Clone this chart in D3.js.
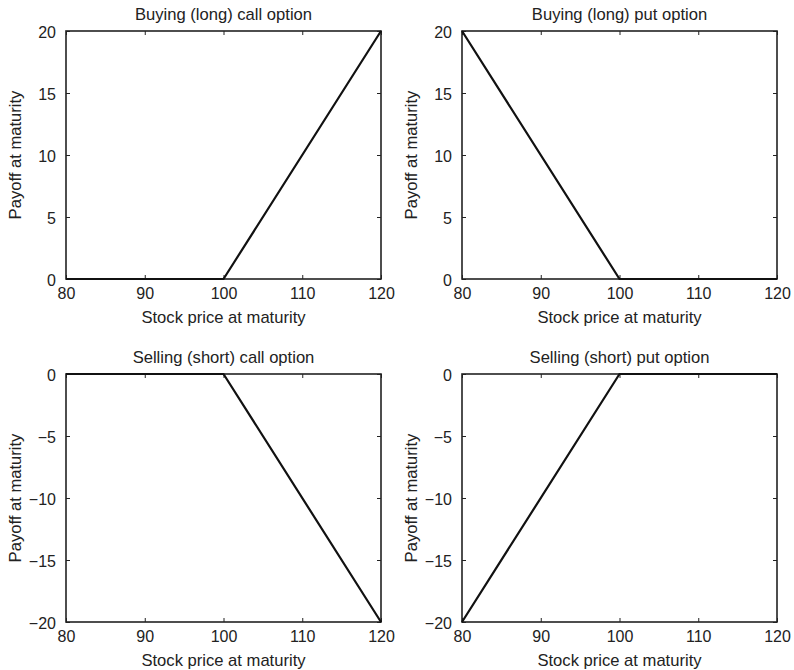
<!DOCTYPE html>
<html>
<head>
<meta charset="utf-8">
<script src="https://cdn.jsdelivr.net/npm/d3@7"></script>
<style>
  html, body { margin: 0; padding: 0; background: #fff; }
  svg { display: block; }
  text { font-family: "Liberation Sans", Arial, Helvetica, sans-serif; fill: #222; }
</style>
</head>
<body>
<svg id="chart" width="794" height="670"></svg>
<script>
// Stock price at maturity (strike = 100)
const stockPrices = [80, 100, 120];

// Payoff at maturity for each position
const longCallPayoff  = [0, 0, 20];
const longPutPayoff   = [20, 0, 0];
const shortCallPayoff = [0, 0, -20];
const shortPutPayoff  = [-20, 0, 0];

const panelTitles = [
  "Buying (long) call option",
  "Buying (long) put option",
  "Selling (short) call option",
  "Selling (short) put option"
];
const xTicks = [80, 90, 100, 110, 120];
const yTicksLong = [0, 5, 10, 15, 20];
const yTicksShort = [-20, -15, -10, -5, 0];
const xLabel = "Stock price at maturity";
const yLabel = "Payoff at maturity";

const panels = [
  { title: panelTitles[0], y: longCallPayoff,  yDomain: [0, 20],  yTicks: yTicksLong,  col: 0, row: 0 },
  { title: panelTitles[1], y: longPutPayoff,   yDomain: [0, 20],  yTicks: yTicksLong,  col: 1, row: 0 },
  { title: panelTitles[2], y: shortCallPayoff, yDomain: [-20, 0], yTicks: yTicksShort, col: 0, row: 1 },
  { title: panelTitles[3], y: shortPutPayoff,  yDomain: [-20, 0], yTicks: yTicksShort, col: 1, row: 1 }
];

// Plot-box geometry
const colX = [66, 462];
const rowY = [31, 374];
const boxW = 315;
const boxH = 248;
const tickLen = 4;
const ink = "#222";

const svg = d3.select("#chart");

panels.forEach(p => {
  const g = svg.append("g")
    .attr("transform", `translate(${colX[p.col]},${rowY[p.row]})`);

  const x = d3.scaleLinear().domain([80, 120]).range([0, boxW]);
  const y = d3.scaleLinear().domain(p.yDomain).range([boxH, 0]);

  // Ticks point inward on all four sides
  const axB = d3.axisBottom(x).tickValues(xTicks).tickSizeInner(-tickLen).tickSizeOuter(0).tickPadding(9);
  const axT = d3.axisTop(x).tickValues(xTicks).tickSizeInner(-tickLen).tickSizeOuter(0).tickFormat("");
  const axL = d3.axisLeft(y).tickValues(p.yTicks).tickSizeInner(-tickLen).tickSizeOuter(0).tickPadding(10);
  const axR = d3.axisRight(y).tickValues(p.yTicks).tickSizeInner(-tickLen).tickSizeOuter(0).tickFormat("");

  const gb = g.append("g").attr("transform", `translate(0,${boxH})`).call(axB);
  const gt = g.append("g").call(axT);
  const gl = g.append("g").call(axL);
  const gr = g.append("g").attr("transform", `translate(${boxW},0)`).call(axR);

  [gb, gt, gl, gr].forEach(a => {
    a.select(".domain").remove();
    a.selectAll(".tick line").attr("stroke", ink).attr("stroke-width", 1);
    a.selectAll(".tick text")
      .style("font-family", "'Liberation Sans', Arial, sans-serif")
      .style("font-size", "16px")
      .attr("fill", ink);
  });
  gl.selectAll(".tick text").attr("dy", "0.4em");

  // Box
  g.append("rect")
    .attr("width", boxW).attr("height", boxH)
    .attr("fill", "none").attr("stroke", ink).attr("stroke-width", 1.6);

  // Payoff line
  const pts = stockPrices.map((s, i) => [s, p.y[i]]);
  g.append("path")
    .datum(pts)
    .attr("fill", "none")
    .attr("stroke", "#111")
    .attr("stroke-width", 2.2)
    .attr("stroke-linejoin", "round")
    .attr("d", d3.line().x(d => x(d[0])).y(d => y(d[1])));

  // Title
  g.append("text")
    .attr("x", boxW / 2).attr("y", -11)
    .attr("text-anchor", "middle")
    .style("font-size", "16.6px")
    .text(p.title);

  // X label
  g.append("text")
    .attr("x", boxW / 2).attr("y", boxH + 44)
    .attr("text-anchor", "middle")
    .style("font-size", "16.6px")
    .text(xLabel);

  // Y label
  g.append("text")
    .attr("transform", `translate(-45,${boxH / 2}) rotate(-90)`)
    .attr("text-anchor", "middle")
    .style("font-size", "16.6px")
    .text(yLabel);
});
</script>
</body>
</html>
